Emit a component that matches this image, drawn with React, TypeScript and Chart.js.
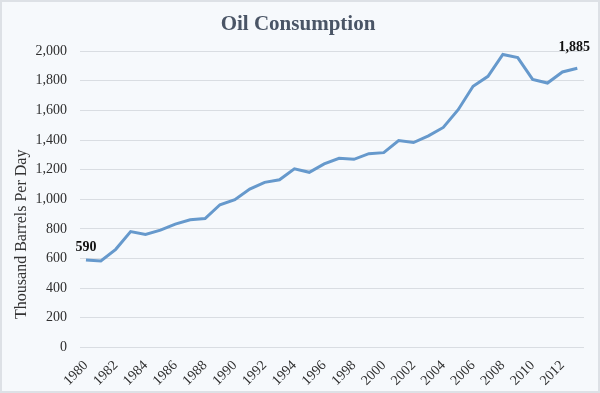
import React, { useEffect, useRef } from "react";
import { Chart, registerables } from "chart.js";

Chart.register(...registerables);

const years: number[] = [
  1980, 1981, 1982, 1983, 1984, 1985, 1986, 1987, 1988, 1989,
  1990, 1991, 1992, 1993, 1994, 1995, 1996, 1997, 1998, 1999,
  2000, 2001, 2002, 2003, 2004, 2005, 2006, 2007, 2008, 2009,
  2010, 2011, 2012, 2013,
];
const consumption: number[] = [
  590, 583, 662, 782, 762, 791, 832, 861, 870, 963,
  997, 1069, 1114, 1132, 1205, 1182, 1239, 1277, 1270, 1308,
  1315, 1397, 1383, 1428, 1485, 1605, 1763, 1830, 1978, 1957,
  1810, 1785, 1860, 1885,
];
const tickYears: number[] = [
  1980, 1982, 1984, 1986, 1988, 1990, 1992, 1994, 1996, 1998,
  2000, 2002, 2004, 2006, 2008, 2010, 2012,
];
const labelledIndices: number[] = [0, 33];
const yAxisTitle = "Thousand Barrels Per Day";

const SERIF = "'Liberation Serif', 'Times New Roman', serif";

const pointLabels = {
  id: "pointLabels",
  afterDatasetsDraw(chart: any) {
    const ctx = chart.ctx;
    const xs = chart.scales.x;
    const ys = chart.scales.y;
    ctx.save();
    ctx.font = `bold 14px ${SERIF}`;
    ctx.fillStyle = "#111111";
    ctx.textAlign = "center";
    ctx.textBaseline = "bottom";
    labelledIndices.forEach((i, k) => {
      const x = xs.getPixelForValue(years[i]);
      const y = ys.getPixelForValue(consumption[i]);
      const text = consumption[i].toLocaleString("en-US");
      const dy = k === 0 ? 6 : 14;
      const dx = k === 0 ? 0 : -3;
      ctx.fillText(text, x + dx, y - dy);
    });
    ctx.restore();
  },
};

const yTitle = {
  id: "yTitle",
  afterDraw(chart: any) {
    const ctx = chart.ctx;
    const ys = chart.scales.y;
    const area = chart.chartArea;
    ctx.save();
    ctx.font = `16px ${SERIF}`;
    ctx.fillStyle = "#333333";
    ctx.textAlign = "center";
    ctx.textBaseline = "middle";
    const cx = ys.left + 10;
    const cy = (area.top + area.bottom) / 2 + 35;
    ctx.translate(cx, cy);
    ctx.rotate(-Math.PI / 2);
    ctx.fillText(yAxisTitle, 0, 0);
    ctx.restore();
  },
};

export default function App() {
  const ref = useRef<HTMLCanvasElement>(null);
  useEffect(() => {
    if (!ref.current) return;
    const chart = new Chart(ref.current, {
      type: "line",
      data: {
        datasets: [
          {
            label: "Oil Consumption",
            data: years.map((y, i) => ({ x: y, y: consumption[i] })),
            borderColor: "#6699cc",
            borderWidth: 3,
            pointRadius: 0,
            tension: 0,
            fill: false,
          },
        ],
      },
      options: {
        animation: false,
        responsive: false,
        layout: { padding: { top: 4, right: 14, bottom: 0, left: 10 } },
        plugins: {
          legend: { display: false },
          tooltip: { enabled: false },
          title: {
            display: true,
            text: "Oil Consumption",
            color: "#4a5566",
            font: { family: SERIF, size: 21, weight: "bold" },
            padding: { top: 6, bottom: 14 },
          },
        },
        scales: {
          x: {
            type: "linear",
            min: 1979.6,
            max: 2013.45,
            grid: { display: false },
            border: { display: false },
            afterBuildTicks: (scale: any) => {
              scale.ticks = tickYears.map((v) => ({ value: v }));
            },
            afterFit: (scale: any) => {
              scale.paddingLeft = 0;
              scale.paddingRight = 0;
            },
            ticks: {
              autoSkip: false,
              minRotation: 45,
              maxRotation: 45,
              color: "#2f2f2f",
              padding: 2,
              font: { family: SERIF, size: 14 },
              callback: (v: any) => String(v),
            },
          },
          y: {
            min: 0,
            max: 2000,
            grid: { color: "#d9dde2", lineWidth: 1, drawTicks: false },
            border: { display: false },
            afterFit: (scale: any) => {
              scale.width = 68;
            },
            ticks: {
              stepSize: 200,
              color: "#2f2f2f",
              padding: 13,
              font: { family: SERIF, size: 14 },
              callback: (v: any) => Number(v).toLocaleString("en-US"),
            },
            title: { display: false },
          },
        },
      },
      plugins: [pointLabels, yTitle],
    });
    return () => chart.destroy();
  }, []);

  return (
    <div
      style={{
        position: "absolute",
        left: 0,
        top: 0,
        width: 600,
        height: 393,
        boxSizing: "border-box",
        background: "#f6f9fc",
        border: "2px solid #dde1e6",
      }}
    >
      <canvas
        ref={ref}
        width={596}
        height={389}
        style={{ display: "block", width: 596, height: 389 }}
      />
    </div>
  );
}
